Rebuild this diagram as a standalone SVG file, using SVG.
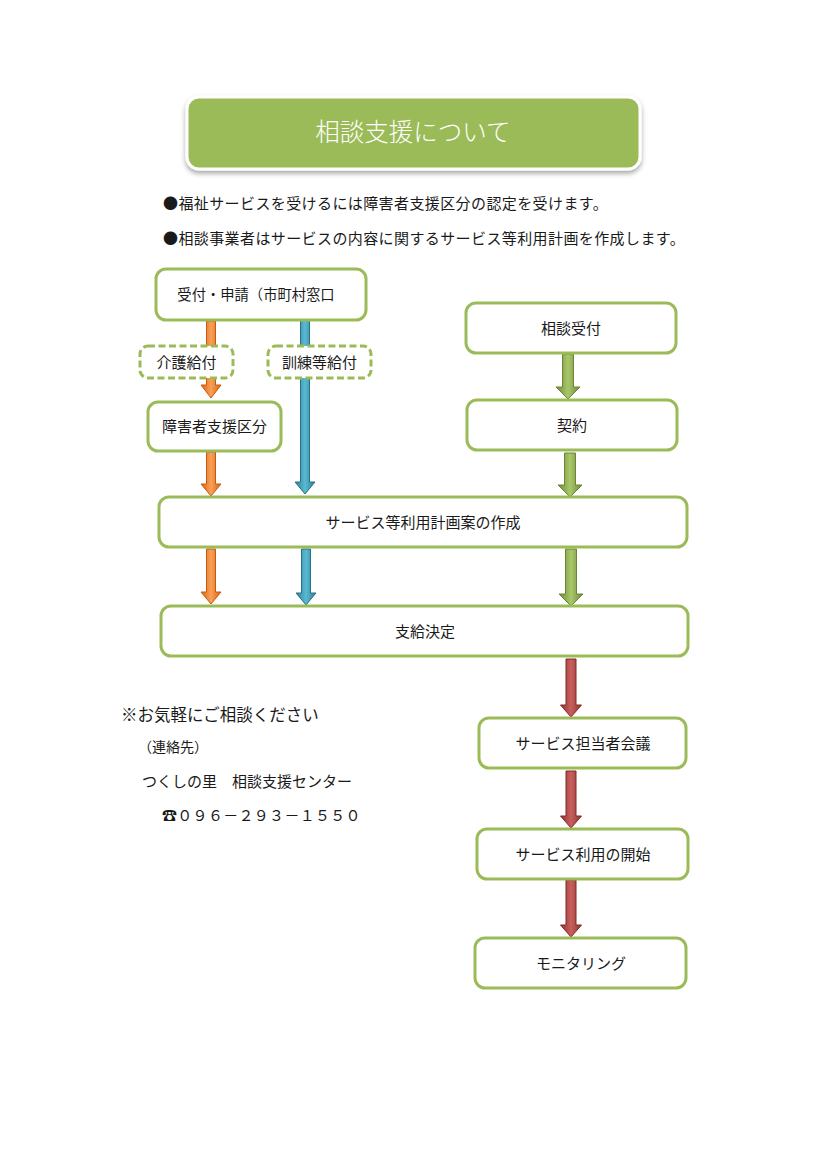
<svg xmlns="http://www.w3.org/2000/svg" width="826" height="1169" viewBox="0 0 826 1169">
<defs>
<style>
text{font-family:"Noto Sans CJK JP","Noto Sans CJK SC",sans-serif;fill:#1a1a1a}
.box{fill:#fff;stroke:#9BBB59;stroke-width:3}
.dash{fill:#fff;stroke:#9BBB59;stroke-width:3;stroke-dasharray:7 3.5}
.lbl{font-size:15px;text-anchor:middle}
.intro{font-size:15px;letter-spacing:0.4px}
.or{fill:url(#gOr);stroke:#C65A11;stroke-width:1}
.bl{fill:url(#gBl);stroke:#2A7186;stroke-width:1}
.gr{fill:url(#gGr);stroke:#6B8536;stroke-width:1}
.rd{fill:url(#gRd);stroke:#7F2B29;stroke-width:1}
</style>
<linearGradient id="gOr" x1="0" y1="0" x2="1" y2="0"><stop offset="0" stop-color="#D9650C"/><stop offset="0.5" stop-color="#F9A05A"/><stop offset="1" stop-color="#D9650C"/></linearGradient>
<linearGradient id="gBl" x1="0" y1="0" x2="1" y2="0"><stop offset="0" stop-color="#2E7F96"/><stop offset="0.5" stop-color="#5AB9D3"/><stop offset="1" stop-color="#2E7F96"/></linearGradient>
<linearGradient id="gGr" x1="0" y1="0" x2="1" y2="0"><stop offset="0" stop-color="#6F8A38"/><stop offset="0.5" stop-color="#A9C76A"/><stop offset="1" stop-color="#6F8A38"/></linearGradient>
<linearGradient id="gRd" x1="0" y1="0" x2="1" y2="0"><stop offset="0" stop-color="#8E3331"/><stop offset="0.5" stop-color="#C9605D"/><stop offset="1" stop-color="#8E3331"/></linearGradient>
<filter id="sh" x="-5%" y="-20%" width="110%" height="150%"><feDropShadow dx="0" dy="3" stdDeviation="2.5" flood-color="#000" flood-opacity="0.35"/></filter>
</defs>
<rect width="826" height="1169" fill="#fff"/>

<g id="title">
<rect x="187" y="97" width="453" height="72" rx="12" fill="#9BBB59" stroke="#fff" stroke-width="3" filter="url(#sh)"/>
<text x="413" y="141" font-size="24.5" text-anchor="middle" style="fill:#fff;font-weight:300">相談支援について</text>
</g>

<g id="intro">
<text class="intro" x="163" y="209">●福祉サービスを受けるには障害者支援区分の認定を受けます。</text>
<text class="intro" x="163" y="244">●相談事業者はサービスの内容に関するサービス等利用計画を作成します。</text>
</g>

<g id="connectors">
<polygon class="or" points="206.5,321 215.5,321 215.5,385 221,385 211,398 201,385 206.5,385"/>
<polygon class="or" points="206.5,452 215.5,452 215.5,484 221,484 211,496 201,484 206.5,484"/>
<polygon class="or" points="206.5,549 215.5,549 215.5,592 221,592 211,604 201,592 206.5,592"/>
<polygon class="bl" points="300.5,320 309.5,320 309.5,482 315,482 305,494 295,482 300.5,482"/>
<polygon class="bl" points="301.5,549 310.5,549 310.5,593 316,593 306,605 296,593 301.5,593"/>
<polygon class="gr" points="562.5,354 573.5,354 573.5,387 580,387 568,399 556,387 562.5,387"/>
<polygon class="gr" points="564.5,453 575.5,453 575.5,485 582,485 570,497 558,485 564.5,485"/>
<polygon class="gr" points="565.5,549 576.5,549 576.5,594 583,594 571,606 559,594 565.5,594"/>
<polygon class="rd" points="566,659 576,659 576,705 581.5,705 571,717 560.5,705 566,705"/>
<polygon class="rd" points="566,771 576,771 576,816 581.5,816 571,828 560.5,816 566,816"/>
<polygon class="rd" points="566,880 576,880 576,925 581.5,925 571,937 560.5,925 566,925"/>
</g>

<g id="n-uketsuke">
<rect class="box" x="156" y="269" width="210" height="51" rx="10"/>
<text class="lbl" x="256" y="300" style="font-size:14.3px">受付・申請（市町村窓口</text>
</g>
<g id="n-kaigo">
<rect class="dash" x="140" y="346" width="93" height="32" rx="8"/>
<text class="lbl" x="186.5" y="367.5">介護給付</text>
</g>
<g id="n-kunren">
<rect class="dash" x="268" y="346" width="103" height="32" rx="8"/>
<text class="lbl" x="319.5" y="367.5">訓練等給付</text>
</g>
<g id="n-kubun">
<rect class="box" x="148" y="402" width="133" height="49" rx="10"/>
<text class="lbl" x="214.5" y="432">障害者支援区分</text>
</g>
<g id="n-soudan">
<rect class="box" x="466" y="303" width="210" height="50" rx="10"/>
<text class="lbl" x="571" y="333.5">相談受付</text>
</g>
<g id="n-keiyaku">
<rect class="box" x="467" y="400" width="210" height="50" rx="10"/>
<text class="lbl" x="572" y="430.5">契約</text>
</g>
<g id="n-plan">
<rect class="box" x="159" y="497" width="528" height="50" rx="10"/>
<text class="lbl" x="423" y="527.5">サービス等利用計画案の作成</text>
</g>
<g id="n-shikyu">
<rect class="box" x="161" y="606" width="527" height="50" rx="10"/>
<text class="lbl" x="425" y="636.5">支給決定</text>
</g>
<g id="n-kaigi">
<rect class="box" x="479" y="718" width="207" height="50" rx="10"/>
<text class="lbl" x="583" y="748.5">サービス担当者会議</text>
</g>
<g id="n-kaishi">
<rect class="box" x="477" y="829" width="211" height="50" rx="10"/>
<text class="lbl" x="583" y="859.5">サービス利用の開始</text>
</g>
<g id="n-monitor">
<rect class="box" x="475" y="938" width="211" height="50" rx="10"/>
<text class="lbl" x="581" y="968.5">モニタリング</text>
</g>

<g id="contact">
<text x="121" y="721" font-size="16.5">※お気軽にご相談ください</text>
<text x="138" y="752" font-size="14">（連絡先）</text>
<text x="142" y="787" font-size="15">つくしの里　相談支援センター</text>
<text x="162" y="821" font-size="15" letter-spacing="0.3">☎０９６－２９３－１５５０</text>
</g>
</svg>
